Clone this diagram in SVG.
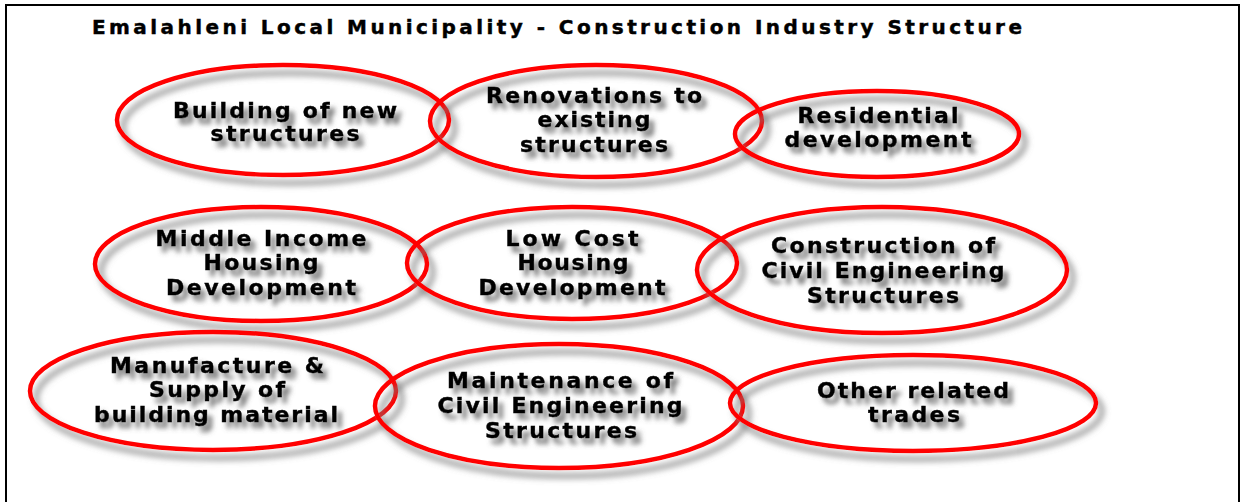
<svg xmlns="http://www.w3.org/2000/svg" width="1240" height="502" viewBox="0 0 1240 502">
  <defs>
    <filter id="shadow" x="-10%" y="-15%" width="125%" height="140%">
      <feGaussianBlur in="SourceAlpha" stdDeviation="3" result="b"/>
      <feOffset in="b" dx="6" dy="8" result="o"/>
      <feFlood flood-color="#7a7a7a" flood-opacity="0.85"/>
      <feComposite in2="o" operator="in" result="s"/>
      <feMerge><feMergeNode in="s"/><feMergeNode in="SourceGraphic"/></feMerge>
    </filter>
    <filter id="tshadow" x="-10%" y="-30%" width="125%" height="180%">
      <feGaussianBlur in="SourceAlpha" stdDeviation="2.5" result="b"/>
      <feOffset in="b" dx="5" dy="6" result="o"/>
      <feFlood flood-color="#555" flood-opacity="0.8"/>
      <feComposite in2="o" operator="in" result="s"/>
      <feMerge><feMergeNode in="s"/><feMergeNode in="SourceGraphic"/></feMerge>
    </filter>
  </defs>
  <style>
    .ell { fill: none; stroke: #ff0000; stroke-width: 4.5; filter: url(#shadow); }
    .lbl { font-family: "DejaVu Sans", "Liberation Sans", sans-serif; font-weight: bold; font-size: 22px; fill: #000; stroke: #000; stroke-width: 0.45; text-anchor: middle; filter: url(#tshadow); }
    .title { font-family: "DejaVu Sans", "Liberation Sans", sans-serif; font-weight: bold; font-size: 20px; fill: #000; stroke: #000; stroke-width: 0.45; }
  </style>
  <rect x="0" y="0" width="1240" height="502" fill="#fff"/>
  <rect x="6" y="5" width="1233" height="520" fill="none" stroke="#000" stroke-width="2"/>
  <text class="title" x="92" y="34" textLength="930" lengthAdjust="spacing">Emalahleni Local Municipality - Construction Industry Structure</text>

  <g id="connectors"></g>

  <g id="n1">
    <ellipse class="ell" cx="283" cy="120" rx="166" ry="55"/>
    <text class="lbl"><tspan x="285" y="118" textLength="224" lengthAdjust="spacing">Building of new</tspan><tspan x="285" y="141" textLength="149" lengthAdjust="spacing">structures</tspan></text>
  </g>
  <g id="n2">
    <ellipse class="ell" cx="596" cy="121" rx="166" ry="56"/>
    <text class="lbl"><tspan x="594" y="103" textLength="216" lengthAdjust="spacing">Renovations to</tspan><tspan x="594" y="127" textLength="113" lengthAdjust="spacing">existing</tspan><tspan x="594" y="152" textLength="148" lengthAdjust="spacing">structures</tspan></text>
  </g>
  <g id="n3">
    <ellipse class="ell" cx="877" cy="134" rx="142" ry="43"/>
    <text class="lbl"><tspan x="878" y="123" textLength="161" lengthAdjust="spacing">Residential</tspan><tspan x="878" y="147" textLength="187" lengthAdjust="spacing">development</tspan></text>
  </g>
  <g id="n4">
    <ellipse class="ell" cx="261" cy="264" rx="166" ry="57"/>
    <text class="lbl"><tspan x="261" y="246" textLength="211" lengthAdjust="spacing">Middle Income</tspan><tspan x="261" y="270" textLength="115" lengthAdjust="spacing">Housing</tspan><tspan x="261" y="295" textLength="190" lengthAdjust="spacing">Development</tspan></text>
  </g>
  <g id="n5">
    <ellipse class="ell" cx="572" cy="263" rx="165" ry="56"/>
    <text class="lbl"><tspan x="572" y="246" textLength="133" lengthAdjust="spacing">Low Cost</tspan><tspan x="573" y="270" textLength="111" lengthAdjust="spacing">Housing</tspan><tspan x="572" y="295" textLength="187" lengthAdjust="spacing">Development</tspan></text>
  </g>
  <g id="n6">
    <ellipse class="ell" cx="882" cy="270" rx="185" ry="63"/>
    <text class="lbl"><tspan x="883" y="253" textLength="224" lengthAdjust="spacing">Construction of</tspan><tspan x="883" y="278" textLength="243" lengthAdjust="spacing">Civil Engineering</tspan><tspan x="883" y="303" textLength="152" lengthAdjust="spacing">Structures</tspan></text>
  </g>
  <g id="n7">
    <ellipse class="ell" cx="213" cy="391" rx="183" ry="59"/>
    <text class="lbl"><tspan x="217" y="373" textLength="214" lengthAdjust="spacing">Manufacture &amp;</tspan><tspan x="217" y="397" textLength="136" lengthAdjust="spacing">Supply of</tspan><tspan x="216" y="422" textLength="244" lengthAdjust="spacing">building material</tspan></text>
  </g>
  <g id="n8">
    <ellipse class="ell" cx="559" cy="406" rx="184" ry="62"/>
    <text class="lbl"><tspan x="560" y="388" textLength="226" lengthAdjust="spacing">Maintenance of</tspan><tspan x="560" y="413" textLength="245" lengthAdjust="spacing">Civil Engineering</tspan><tspan x="561" y="438" textLength="152" lengthAdjust="spacing">Structures</tspan></text>
  </g>
  <g id="n9">
    <ellipse class="ell" cx="913" cy="403" rx="183" ry="48"/>
    <text class="lbl"><tspan x="913" y="398" textLength="192" lengthAdjust="spacing">Other related</tspan><tspan x="914" y="422" textLength="92" lengthAdjust="spacing">trades</tspan></text>
  </g>
</svg>
